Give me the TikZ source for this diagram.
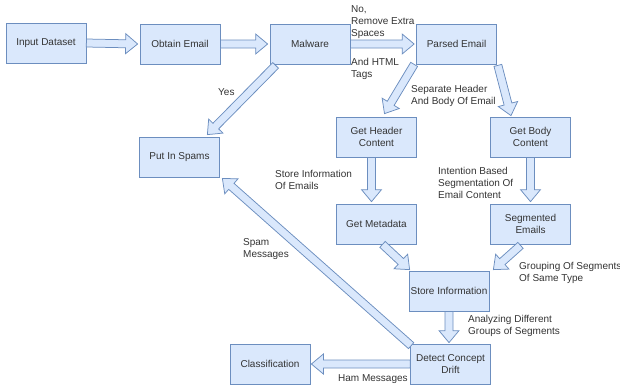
\documentclass[tikz,border=0pt]{standalone}
\usepackage{fontspec}
\setmainfont{Liberation Sans}
\usetikzlibrary{positioning, calc}
\definecolor{boxfill}{HTML}{DAE8FC}
\definecolor{boxline}{HTML}{6C8EBF}
\definecolor{txt}{HTML}{333333}
\newcommand{\diafont}{\fontsize{10}{12}\selectfont}
% hollow block arrow from #1 to #2
\newcommand{\flexarrow}[2]{%
	\coordinate (fa-s) at (#1);
	\coordinate (fa-e) at (#2);
	\coordinate (fa-b) at ($(fa-e)!12pt!(fa-s)$);
	\draw[flex] ($(fa-s)!4pt!90:(fa-e)$) -- ($(fa-b)!4pt!90:(fa-e)$)
		-- ($(fa-b)!10pt!90:(fa-e)$) -- (fa-e)
		-- ($(fa-b)!10pt!-90:(fa-e)$) -- ($(fa-b)!4pt!-90:(fa-e)$)
		-- ($(fa-s)!4pt!-90:(fa-e)$) -- cycle;
}
\tikzset{
	box/.style={
		draw=boxline,
		fill=boxfill,
		line width=0.75pt,
		align=center,
		text=txt,
		font=\diafont,
		minimum width=80pt,
		minimum height=40pt,
		inner sep=1pt,
	},
	labe/.style={
		align=left,
		text=txt,
		font=\diafont,
		inner sep=0pt,
		anchor=north west,
	},
	flex/.style={
		draw=boxline,
		fill=boxfill,
		line width=0.75pt,
		line join=miter,
	},
}
\begin{document}
\begin{tikzpicture}[x=1pt, y=-1pt]
\useasboundingbox (0,0) rectangle (620,389);

\node(in)[box] at (46,43) {Input Dataset};
\node(obt)[box] at (180,44) {Obtain Email};
\node(malw)[box] at (310,44) {Malware};
\node(parsed)[box] at (456.5,44) {Parsed Email};
\node(spam)[box] at (179.5,157) {Put In Spams};
\node(hdr)[box] at (376.5,137) {Get Header\\Content};
\node(meta)[box] at (376.5,224) {Get Metadata};
\node(body)[box] at (530.5,137) {Get Body\\Content};
\node(seg)[box] at (530.5,224) {Segmented\\Emails};
\node(store)[box] at (449,291) {Store Information};
\node(drift)[box] at (450.5,364) {Detect Concept\\Drift};
\node(cls)[box] at (270,364) {Classification};

\flexarrow{in.east}{[shift={(-2,0)}]obt.west}
\flexarrow{obt.east}{[shift={(-2,0)}]malw.west}
\flexarrow{malw.east}{[shift={(-2,0)}]parsed.west}
\node(lno)[labe] at (351,5) {No,\\Remove Extra\\Spaces};
\node(lhtml)[labe] at (351,58) {And HTML\\Tags};

\flexarrow{[shift={(6,1)}]malw.south west}{[shift={(-12.5,-2)}]spam.north east}
\node(lyes)[labe] at (218,88) {Yes};

\flexarrow{[shift={(-2,0)}]parsed.south west}{[shift={(8,-3)}]hdr.north}
\node(lsep)[labe] at (411,85) {Separate Header\\And Body Of Email};
\flexarrow{[shift={(1,1)}]parsed.south east}{[shift={(-19.5,-1)}]body.north}

\flexarrow{[shift={(-5,0)}]hdr.south}{[shift={(-5,-2)}]meta.north}
\node(lstore)[labe] at (275,170) {Store Information\\Of Emails};
\flexarrow{body.south}{[shift={(0,-2)}]seg.north}
\node(lint)[labe] at (438,167) {Intention Based\\Segmentation Of\\Email Content};

\flexarrow{[shift={(6,0)}]meta.south}{[shift={(1,-1)}]store.north west}
\flexarrow{[shift={(-10,1)}]seg.south}{[shift={(4,-1)}]store.north east}
\node(lgroup)[labe] at (519,262) {Grouping Of Segments\\Of Same Type};

\flexarrow{store.south}{[shift={(0,-1)}]store.south |- drift.north}
\node(lana)[labe] at (468,315) {Analyzing Different\\Groups of Segments};

\flexarrow{[shift={(1,2)}]drift.north west}{[shift={(2.5,1)}]spam.south east}
\node(lspam)[labe] at (243,238) {Spam\\Messages};
\flexarrow{drift.west}{[shift={(1,0)}]cls.east}
\node(lham)[labe] at (338,374) {Ham Messages};

\end{tikzpicture}
\end{document}
